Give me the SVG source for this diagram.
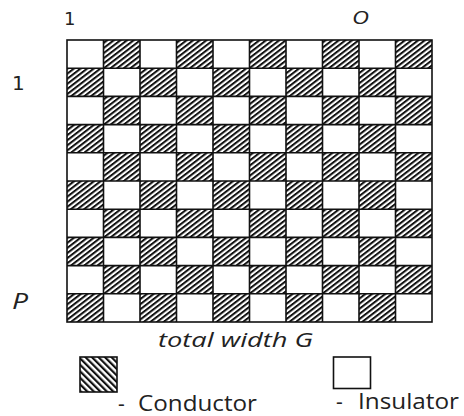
<svg xmlns="http://www.w3.org/2000/svg" xmlns:xlink="http://www.w3.org/1999/xlink" width="464" height="416" viewBox="0 0 464 416">
  <style>
    .lbl { font-family: "Open Sans", "DejaVu Sans", sans-serif; fill: #222; }
    .num { font-family: "DejaVu Sans", sans-serif; fill: #222; }
    .it { font-style: italic; }
    .grid { fill: none; stroke: #111; stroke-width: 1.6; }
    .cond { fill: url(#hatchCell); }
    .key { stroke: #111; stroke-width: 1.6; }
  </style>
  <defs>
    <!-- fine "/" hatching used for conductor cells inside the array -->
    <pattern id="hatchCell" patternUnits="userSpaceOnUse" width="3.6" height="3.6" patternTransform="scale(1.3 1) rotate(45)">
      <rect width="3.6" height="3.6" fill="#fff"/>
      <line x1="0.9" y1="-1" x2="0.9" y2="5" stroke="#111" stroke-width="1.8"/>
    </pattern>
    <!-- "\" hatching used for the legend swatch -->
    <pattern id="hatchKey" patternUnits="userSpaceOnUse" width="4.6" height="4.6" patternTransform="rotate(-45)">
      <rect width="4.6" height="4.6" fill="#fff"/>
      <line x1="1.1" y1="-1" x2="1.1" y2="6" stroke="#111" stroke-width="2.2"/>
    </pattern>
    <!-- conductor cells of one row: odd columns / even columns -->
    <g id="rowOdd">
      <rect class="cond" x="103.5" y="0" width="36.5" height="28.2"/>
      <rect class="cond" x="176.5" y="0" width="36.5" height="28.2"/>
      <rect class="cond" x="249.5" y="0" width="36.5" height="28.2"/>
      <rect class="cond" x="322.5" y="0" width="36.5" height="28.2"/>
      <rect class="cond" x="395.5" y="0" width="36.5" height="28.2"/>
    </g>
    <g id="rowEven">
      <rect class="cond" x="67" y="0" width="36.5" height="28.2"/>
      <rect class="cond" x="140" y="0" width="36.5" height="28.2"/>
      <rect class="cond" x="213" y="0" width="36.5" height="28.2"/>
      <rect class="cond" x="286" y="0" width="36.5" height="28.2"/>
      <rect class="cond" x="359" y="0" width="36.5" height="28.2"/>
    </g>
  </defs>

  <rect width="464" height="416" fill="#fff"/>

  <!-- 10 x 10 checkerboard array -->
  <g id="array">
    <rect x="67" y="40" width="365" height="282" fill="#fff"/>
    <use xlink:href="#rowOdd" y="40"/>
    <use xlink:href="#rowEven" y="68.2"/>
    <use xlink:href="#rowOdd" y="96.4"/>
    <use xlink:href="#rowEven" y="124.6"/>
    <use xlink:href="#rowOdd" y="152.8"/>
    <use xlink:href="#rowEven" y="181"/>
    <use xlink:href="#rowOdd" y="209.2"/>
    <use xlink:href="#rowEven" y="237.4"/>
    <use xlink:href="#rowOdd" y="265.6"/>
    <use xlink:href="#rowEven" y="293.8"/>
    <path class="grid" d="M103.5 40V322M140 40V322M176.5 40V322M213 40V322M249.5 40V322M286 40V322M322.5 40V322M359 40V322M395.5 40V322
      M67 68.2H432M67 96.4H432M67 124.6H432M67 152.8H432M67 181H432M67 209.2H432M67 237.4H432M67 265.6H432M67 293.8H432"/>
    <rect class="grid" x="67" y="40" width="365" height="282" stroke-width="2"/>
  </g>

  <!-- axis labels -->
  <g id="labels">
    <text class="num" x="64" y="25" font-size="18">1</text>
    <text class="lbl it" x="352" y="24" font-size="18" textLength="17" lengthAdjust="spacingAndGlyphs">O</text>
    <text class="num" x="12" y="90" font-size="20">1</text>
    <text class="lbl it" x="12" y="309" font-size="22" textLength="16" lengthAdjust="spacingAndGlyphs">P</text>
    <text class="lbl it" x="158" y="347" font-size="20" textLength="155" lengthAdjust="spacingAndGlyphs">total width G</text>
  </g>

  <!-- legend -->
  <g id="legend-conductor">
    <rect class="key" x="80" y="357" width="37" height="35" fill="url(#hatchKey)"/>
    <text class="lbl" x="118" y="411" font-size="21">-<tspan x="138" textLength="119" lengthAdjust="spacingAndGlyphs">Conductor</tspan></text>
  </g>
  <g id="legend-insulator">
    <rect class="key" x="333.5" y="357" width="37" height="31.5" fill="#fff"/>
    <text class="lbl" x="336" y="409" font-size="21">-<tspan x="358" textLength="101" lengthAdjust="spacingAndGlyphs">Insulator</tspan></text>
  </g>
</svg>
